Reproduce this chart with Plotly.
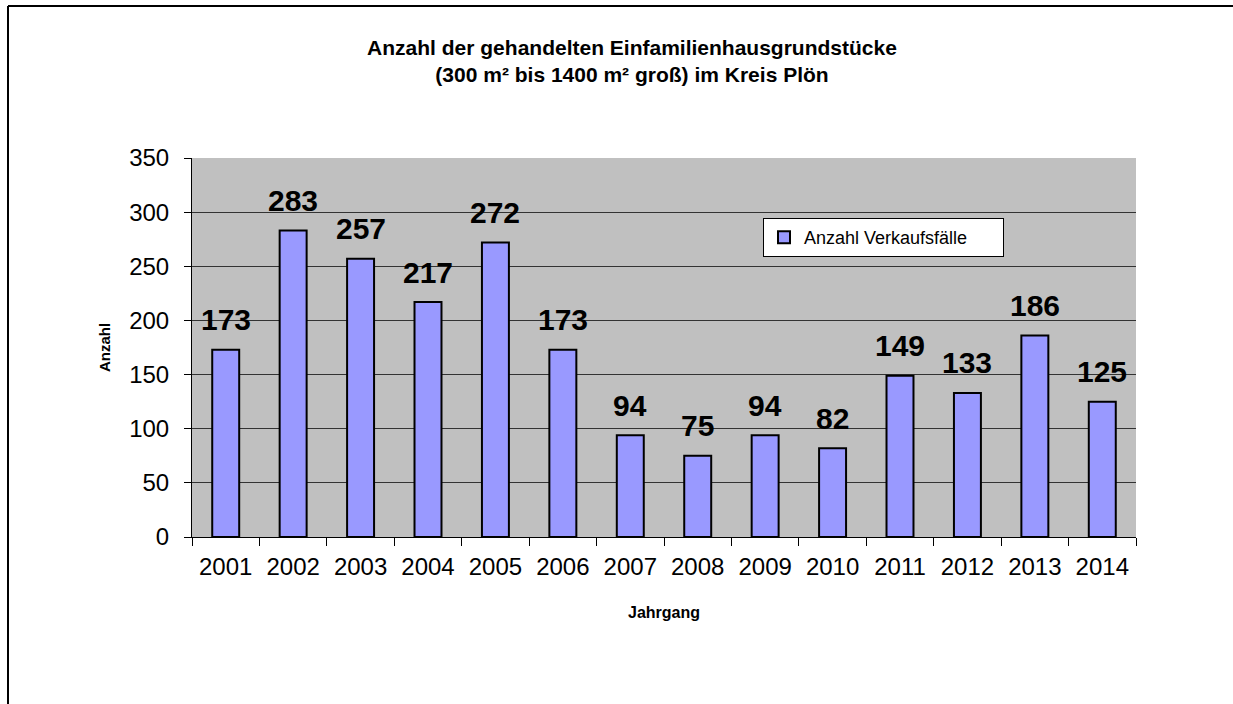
import plotly.graph_objects as go

years = ["2001", "2002", "2003", "2004", "2005", "2006", "2007",
         "2008", "2009", "2010", "2011", "2012", "2013", "2014"]
anzahl = [173, 283, 257, 217, 272, 173, 94, 75, 94, 82, 149, 133, 186, 125]
y_ticks = [0, 50, 100, 150, 200, 250, 300, 350]

series_name = "Anzahl Verkaufsfälle"
title_text = ("<b>Anzahl der gehandelten Einfamilienhausgrundstücke</b><br>"
              "<b>(300 m² bis 1400 m² groß) im Kreis Plön</b>")

FONT = "Liberation Sans, Arial, sans-serif"

fig = go.Figure()
fig.add_trace(go.Bar(
    x=years, y=anzahl, name=series_name,
    marker=dict(color="#9999FF", line=dict(color="#000000", width=2)),
    width=0.4, showlegend=True,
))

# value labels above the bars (x given as category index)
for i, v in enumerate(anzahl):
    fig.add_annotation(x=i, y=v, xref="x", yref="y", text=f"<b>{v}</b>",
                       showarrow=False, yanchor="middle", yshift=30,
                       font=dict(family=FONT, size=30, color="#000000"))

# plot area in page pixels: x 192..1136, y 158..537
FW, FH = 1233, 704
L, R, T, B = 192, FW - 1136, 158, FH - 537
W, H = FW - L - R, FH - T - B

def px_x(p):
    return (p - L) / W

def px_y(p):
    return (FH - B - p) / H

# outer frame (left and top edges)
fig.add_shape(type="line", xref="paper", yref="paper",
              x0=px_x(8), y0=px_y(710), x1=px_x(8), y1=px_y(6),
              line=dict(color="#000000", width=2))
fig.add_shape(type="line", xref="paper", yref="paper",
              x0=px_x(8), y0=px_y(6), x1=px_x(1240), y1=px_y(6),
              line=dict(color="#000000", width=2))

fig.update_layout(
    width=FW, height=FH,
    margin=dict(l=L, r=R, t=T, b=B),
    paper_bgcolor="#FFFFFF",
    plot_bgcolor="#C0C0C0",
    font=dict(family=FONT, color="#000000"),
    title=dict(text=title_text, xref="paper", x=px_x(632), xanchor="center",
               yref="container", y=1 - 55 / FH, yanchor="middle",
               font=dict(family=FONT, size=21, color="#000000")),
    bargap=0.6,
    showlegend=True,
    legend=dict(x=px_x(763), y=px_y(218), xanchor="left", yanchor="top",
                orientation="h", entrywidth=194,
                bgcolor="#FFFFFF", bordercolor="#000000", borderwidth=1,
                font=dict(family=FONT, size=18, color="#000000")),
)

fig.update_xaxes(
    type="category", range=[-0.5, 13.5],
    tickson="boundaries", ticks="outside", ticklen=8,
    tickcolor="#000000", tickwidth=1, tickangle=0,
    showline=True, linecolor="#000000", linewidth=1,
    showgrid=False,
    ticklabelstandoff=8,
    tickfont=dict(family=FONT, size=24, color="#000000"),
    title=dict(text="<b>Jahrgang</b>", standoff=28,
               font=dict(family=FONT, size=16, color="#000000")),
)
fig.update_yaxes(
    range=[0, 350], tickvals=y_ticks, ticks="outside", ticklen=7,
    tickcolor="#000000", tickwidth=1,
    showline=True, linecolor="#000000", linewidth=1,
    showgrid=True, gridcolor="#333333", gridwidth=1,
    zeroline=False,
    ticklabelstandoff=10,
    tickfont=dict(family=FONT, size=24, color="#000000"),
    title=dict(text="<b>Anzahl</b>", standoff=14,
               font=dict(family=FONT, size=15, color="#000000")),
)

fig.write_html("out.html",
               config={"displayModeBar": False},
               post_script="document.body.style.margin='0';")
